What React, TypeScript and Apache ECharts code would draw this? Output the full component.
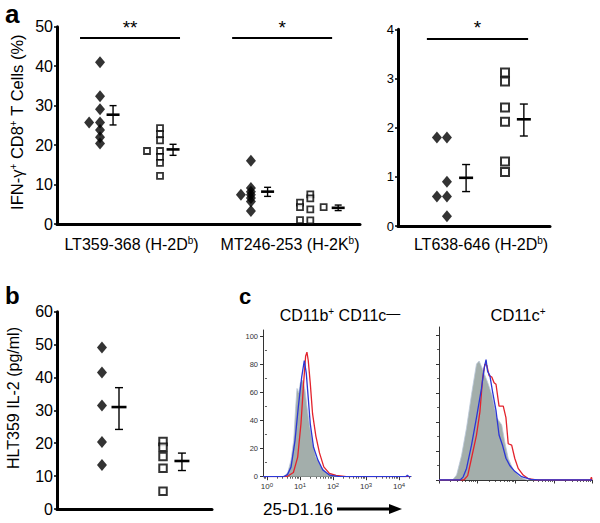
import React, { useEffect, useRef } from "react";
import * as echarts from "echarts";

const FONT = "'Liberation Sans', Arial, Helvetica, sans-serif";

// ---------- Panel a (left plot): % IFN-γ+ of CD8+ T cells ----------
const aLeftLabels = ["LT359-368 (H-2D{s|b})", "MT246-253 (H-2K{s|b})"];
const lt359FilledX = [1.42, 1.42, 1.42, 1.06, 1.42, 1.42, 1.42, 1.42];
const lt359FilledY = [41.0, 32.4, 29.1, 25.7, 25.7, 23.8, 22.0, 20.4];
const lt359OpenX = [3.4, 3.4, 3.4, 2.97, 3.4, 3.4, 3.4, 3.4];
const lt359OpenY = [24.3, 22.8, 21.2, 18.5, 18.5, 17.0, 15.5, 12.2];
const mt246FilledX = [6.4, 6.4, 6.4, 6.07, 6.4, 6.4, 6.4, 6.4];
const mt246FilledY = [16.0, 9.1, 8.2, 7.4, 7.4, 6.6, 5.7, 3.3];
const mt246OpenX = [8.02, 8.02, 8.02, 8.36, 8.36, 8.36, 8.36, 8.8];
const mt246OpenY = [5.4, 4.3, 1.0, 7.5, 6.5, 3.7, 0.9, 4.3];
// [x, mean, low, high]
const aLeftMeans = [
  [1.85, 27.7, 25.1, 30.0],
  [3.83, 18.9, 17.4, 20.2],
  [6.95, 8.2, 7.0, 9.3],
  [9.28, 4.1, 3.4, 4.8],
];
const aLeftSig = [
  { label: "**", from: [0.76, 47.1], to: [4.06, 47.1] },
  { label: "*", from: [5.78, 47.1], to: [9.08, 47.1] },
];

// ---------- Panel a (right plot) ----------
const aRightLabel = "LT638-646 (H-2D{s|b})";
const lt638FilledX = [1.28, 1.61, 1.61, 1.28, 1.61, 1.61];
const lt638FilledY = [1.8, 1.8, 0.9, 0.6, 0.6, 0.2];
const lt638OpenX = [3.52, 3.52, 3.52, 3.52, 3.52, 3.52];
const lt638OpenY = [3.12, 2.94, 2.41, 2.12, 1.31, 1.1];
const aRightMeans = [
  [2.24, 0.98, 0.7, 1.25],
  [4.14, 2.17, 1.83, 2.48],
];
const aRightSig = [{ label: "*", from: [0.95, 3.815], to: [4.28, 3.815] }];

// ---------- Panel b: HLT359 IL-2 ----------
const il2FilledX = [1.45, 1.45, 1.45, 1.45, 1.45];
const il2FilledY = [49.1, 41.5, 31.5, 20.4, 13.4];
const il2OpenX = [3.42, 3.42, 3.42, 3.42, 3.42];
const il2OpenY = [20.5, 18.8, 16.0, 12.4, 5.4];
const bMeans = [
  [2.0, 31.0, 24.2, 36.9],
  [4.03, 14.6, 11.7, 17.0],
];

// ---------- Panel c: histograms [log10 intensity, % of max] ----------
const c1Iso = [[-0.12, 0], [0.45, 0], [0.55, 0.8], [0.63, 3], [0.73, 12], [0.81, 26], [0.87, 50], [0.91, 63], [0.96, 60], [1.01, 67], [1.08, 69], [1.15, 62], [1.21, 50], [1.28, 38], [1.38, 24], [1.48, 14], [1.64, 7], [1.84, 2.4], [2.14, 0.5], [2.4, 0], [4.36, 0]];
const c1Blue = [[-0.12, 0], [0.5, 0], [0.62, 1.5], [0.73, 7], [0.85, 26], [0.95, 50], [1.05, 71], [1.13, 83], [1.19, 74], [1.23, 62], [1.31, 38], [1.41, 21], [1.54, 12], [1.69, 4.8], [1.89, 1.2], [2.15, 0.3], [2.5, 0], [4.2, 0], [4.25, 1], [4.3, 0], [4.36, 0]];
const c1Red = [[-0.12, 0], [0.6, 0], [0.8, 3], [0.93, 14], [1.03, 38], [1.11, 67], [1.17, 86], [1.21, 89], [1.25, 83], [1.31, 67], [1.38, 45], [1.48, 29], [1.59, 17], [1.72, 7], [1.89, 2.4], [2.09, 1], [2.4, 0], [4.36, 0]];
const c2Iso = [[0, 0], [0.35, 0], [0.46, 3.4], [0.59, 17], [0.72, 36], [0.85, 59], [0.98, 80], [1.05, 82], [1.16, 75], [1.29, 66], [1.38, 59], [1.51, 43], [1.64, 38], [1.72, 26], [1.81, 15], [1.94, 7], [2.11, 2.3], [2.3, 0], [4, 0]];
const c2Blue = [[0, 0], [0.55, 0], [0.63, 2], [0.72, 8], [0.85, 24], [0.98, 43], [1.11, 63], [1.18, 77], [1.23, 83], [1.27, 75], [1.33, 72], [1.4, 61], [1.49, 48], [1.57, 31], [1.66, 24], [1.75, 15], [1.85, 10], [1.98, 6], [2.16, 2.3], [2.4, 0.5], [2.6, 0], [4, 0]];
const c2Red = [[0, 0], [0.65, 0], [0.75, 3], [0.85, 15], [0.98, 31], [1.07, 47], [1.14, 70], [1.2, 80], [1.25, 79], [1.31, 72], [1.38, 71], [1.44, 67], [1.49, 66], [1.57, 51], [1.68, 51], [1.75, 43], [1.81, 25], [1.9, 24], [1.98, 15], [2.07, 8], [2.2, 3.4], [2.33, 1], [2.55, 0], [3.96, 0], [3.985, 2], [4, 0]];
const histMajor = [0, 1, 2, 3, 4];
const histYMajor = [0, 20, 40, 60, 80, 100];
const histYMinor = [10, 30, 50, 70, 90];

const minorLog: number[] = [];
for (let d = -1; d < 5; d++) {
  for (let k = 2; k <= 9; k++) minorLog.push(d + Math.log10(k));
}

const zip = (xs: number[], ys: number[]) => xs.map((x, i) => [x, ys[i]]);

const richSup = {
  s: { fontSize: 10, verticalAlign: "top", lineHeight: 12, fontFamily: FONT, color: "#000" },
  d: { fontSize: 14, verticalAlign: "top", lineHeight: 14, fontFamily: FONT, color: "#000" },
};

function errRender(halfMean: number, halfCap: number) {
  return (params: any, api: any) => {
    const x = api.value(0);
    const pm = api.coord([x, api.value(1)]);
    const pl = api.coord([x, api.value(2)]);
    const ph = api.coord([x, api.value(3)]);
    return {
      type: "group",
      children: [
        { type: "line", shape: { x1: pm[0] - halfMean, y1: pm[1], x2: pm[0] + halfMean, y2: pm[1] }, style: { stroke: "#000", lineWidth: 2.6 } },
        { type: "line", shape: { x1: pl[0], y1: pl[1], x2: ph[0], y2: ph[1] }, style: { stroke: "#000", lineWidth: 1.4 } },
        { type: "line", shape: { x1: pl[0] - halfCap, y1: pl[1], x2: pl[0] + halfCap, y2: pl[1] }, style: { stroke: "#000", lineWidth: 1.4 } },
        { type: "line", shape: { x1: ph[0] - halfCap, y1: ph[1], x2: ph[0] + halfCap, y2: ph[1] }, style: { stroke: "#000", lineWidth: 1.4 } },
      ],
    };
  };
}

function sigMarkLine(sigs: any[]) {
  return {
    silent: true,
    symbol: ["none", "none"],
    lineStyle: { color: "#000", width: 2, type: "solid" },
    label: { show: true, position: "middle", formatter: (p: any) => p.name, fontSize: 19, color: "#000", fontFamily: FONT, distance: 1 },
    emphasis: { disabled: true },
    data: sigs.map((s) => [{ name: s.label, coord: s.from }, { coord: s.to }]),
  };
}

const diamond = (size: number[]) => ({
  type: "scatter",
  symbol: "diamond",
  symbolSize: size,
  itemStyle: { color: "#000" },
  silent: true,
});
const openSquare = (size: number, bw: number) => ({
  type: "scatter",
  symbol: "rect",
  symbolSize: size,
  itemStyle: { color: "#fff", borderColor: "#000", borderWidth: bw },
  silent: true,
});

const thickLine = { show: true, onZero: false, lineStyle: { color: "#000", width: 3 } };
const hidden = { show: false };

function plotX(grid: number, max: number) {
  return { gridIndex: grid, type: "value", min: 0, max, axisLine: thickLine, axisTick: hidden, axisLabel: hidden, splitLine: hidden };
}
function plotY(grid: number, max: number, interval: number, fs: number) {
  return {
    gridIndex: grid, type: "value", min: 0, max, interval,
    axisLine: thickLine,
    axisTick: { show: true, length: 3, lineStyle: { color: "#000", width: 1.5 } },
    axisLabel: { fontSize: fs, color: "#000", fontFamily: FONT, margin: 4 },
    splitLine: hidden,
  };
}
const thinLine = { show: true, onZero: false, lineStyle: { color: "#333", width: 1 } };
function histX(grid: number, min: number, max: number, labels: boolean) {
  return {
    gridIndex: grid, type: "value", min, max, position: "bottom",
    axisLine: thinLine,
    axisTick: { show: true, length: 3.5, customValues: histMajor, lineStyle: { color: "#333", width: 1 } },
    axisLabel: labels
      ? {
          show: true, customValues: histMajor, fontSize: 8, color: "#333", fontFamily: FONT, margin: 5, lineHeight: 10,
          formatter: (v: number) => `10{s|${Math.round(v)}}`,
          rich: { s: { fontSize: 6, verticalAlign: "top", lineHeight: 7, color: "#333", fontFamily: FONT } },
        }
      : hidden,
    splitLine: hidden,
  };
}
function histXMinor(grid: number, min: number, max: number) {
  return {
    gridIndex: grid, type: "value", min, max, position: "bottom",
    axisLine: hidden,
    axisTick: { show: true, length: 2, customValues: minorLog.filter((v) => v > min && v < max), lineStyle: { color: "#333", width: 0.8 } },
    axisLabel: hidden, splitLine: hidden,
  };
}
function histY(grid: number, max: number, labels: boolean) {
  return {
    gridIndex: grid, type: "value", min: 0, max, position: "left",
    axisLine: thinLine,
    axisTick: { show: true, length: 3, customValues: histYMajor, lineStyle: { color: "#333", width: 1 } },
    axisLabel: labels ? { show: true, customValues: histYMajor, fontSize: 7.5, color: "#333", fontFamily: FONT, margin: 5 } : hidden,
    splitLine: hidden,
  };
}
function histYMinorAxis(grid: number, max: number) {
  return {
    gridIndex: grid, type: "value", min: 0, max, position: "left",
    axisLine: hidden,
    axisTick: { show: true, length: 2, customValues: histYMinor, lineStyle: { color: "#333", width: 0.8 } },
    axisLabel: hidden, splitLine: hidden,
  };
}

const RED = "#e3232c";
const BLUE = "#2b36d6";
const GRAY = "#a3aeab";

function histSeries(x: number, y: number, iso: number[][], red: number[][], blue: number[][]) {
  const base = { type: "line", xAxisIndex: x, yAxisIndex: y, symbol: "none", showSymbol: false, silent: true, smooth: false };
  return [
    { ...base, data: iso, lineStyle: { color: "#b9c7d8", width: 0.8 }, areaStyle: { color: GRAY, opacity: 1 }, z: 1 },
    { ...base, data: red, lineStyle: { color: RED, width: 1.3 }, z: 2 },
    { ...base, data: blue, lineStyle: { color: BLUE, width: 1.3 }, z: 3 },
  ];
}

const option: any = {
  animation: false,
  grid: [
    { left: 57, top: 26.7, width: 303, height: 197.3 },
    { left: 398, top: 29.3, width: 152, height: 196.7 },
    { left: 57, top: 311.7, width: 155, height: 197.3 },
    { left: 263, top: 330, width: 148, height: 146.7 },
    { left: 439, top: 327, width: 153, height: 153 },
  ],
  xAxis: [
    plotX(0, 10),
    plotX(1, 5),
    plotX(2, 5),
    histX(3, -0.12, 4.36, true),
    histXMinor(3, -0.12, 4.36),
    histX(4, 0, 4, false),
    histXMinor(4, 0, 4),
  ],
  yAxis: [
    plotY(0, 50, 10, 16),
    plotY(1, 4, 1, 13),
    plotY(2, 60, 10, 16),
    histY(3, 104.8, true),
    histYMinorAxis(3, 104.8),
    histY(4, 105.5, false),
    histYMinorAxis(4, 105.5),
  ],
  series: [
    { ...diamond([10, 12]), xAxisIndex: 0, yAxisIndex: 0, data: zip(lt359FilledX, lt359FilledY), markLine: sigMarkLine(aLeftSig) },
    { ...openSquare(6, 1.8), xAxisIndex: 0, yAxisIndex: 0, data: zip(lt359OpenX, lt359OpenY) },
    { ...diamond([10, 12]), xAxisIndex: 0, yAxisIndex: 0, data: zip(mt246FilledX, mt246FilledY) },
    { ...openSquare(6, 1.8), xAxisIndex: 0, yAxisIndex: 0, data: zip(mt246OpenX, mt246OpenY) },
    { type: "custom", xAxisIndex: 0, yAxisIndex: 0, renderItem: errRender(6.5, 3.5), data: aLeftMeans, encode: { x: 0, y: 1 }, silent: true },

    { ...diamond([10, 12]), xAxisIndex: 1, yAxisIndex: 1, data: zip(lt638FilledX, lt638FilledY), markLine: sigMarkLine(aRightSig) },
    { ...openSquare(8, 2), xAxisIndex: 1, yAxisIndex: 1, data: zip(lt638OpenX, lt638OpenY) },
    { type: "custom", xAxisIndex: 1, yAxisIndex: 1, renderItem: errRender(7, 4), data: aRightMeans, encode: { x: 0, y: 1 }, silent: true },

    { ...diamond([10, 12]), xAxisIndex: 2, yAxisIndex: 2, data: zip(il2FilledX, il2FilledY) },
    { ...openSquare(7.5, 2), xAxisIndex: 2, yAxisIndex: 2, data: zip(il2OpenX, il2OpenY) },
    { type: "custom", xAxisIndex: 2, yAxisIndex: 2, renderItem: errRender(7.5, 4), data: bMeans, encode: { x: 0, y: 1 }, silent: true },

    ...histSeries(3, 3, c1Iso, c1Red, c1Blue),
    ...histSeries(5, 5, c2Iso, c2Red, c2Blue),
  ],
  graphic: [
    { type: "text", x: 5, y: 14, style: { text: "a", font: `bold 26px ${FONT}`, fill: "#000", verticalAlign: "middle" } },
    { type: "text", x: 5, y: 295, style: { text: "b", font: `bold 24px ${FONT}`, fill: "#000", verticalAlign: "middle" } },
    { type: "text", x: 239, y: 296, style: { text: "c", font: `bold 22px ${FONT}`, fill: "#000", verticalAlign: "middle" } },
    {
      type: "text", x: 17, y: 122, rotation: Math.PI / 2,
      style: { text: "IFN-γ{s|+} CD8{s|+} T Cells (%)", fontSize: 16.5, fontFamily: FONT, fill: "#000", align: "center", verticalAlign: "middle", lineHeight: 18, rich: richSup },
    },
    {
      type: "text", x: 13, y: 398, rotation: Math.PI / 2,
      style: { text: "HLT359 IL-2 (pg/ml)", fontSize: 16, fontFamily: FONT, fill: "#000", align: "center", verticalAlign: "middle" },
    },
    { type: "text", x: 131.5, y: 244, style: { text: aLeftLabels[0], fontSize: 16, fontFamily: FONT, fill: "#000", align: "center", verticalAlign: "middle", lineHeight: 18, rich: richSup } },
    { type: "text", x: 290, y: 244, style: { text: aLeftLabels[1], fontSize: 16, fontFamily: FONT, fill: "#000", align: "center", verticalAlign: "middle", lineHeight: 18, rich: richSup } },
    { type: "text", x: 481, y: 244, style: { text: aRightLabel, fontSize: 16, fontFamily: FONT, fill: "#000", align: "center", verticalAlign: "middle", lineHeight: 18, rich: richSup } },
    { type: "text", x: 340, y: 315, style: { text: "CD11b{s|+} CD11c{d|—}", fontSize: 16, fontFamily: FONT, fill: "#000", align: "center", verticalAlign: "middle", lineHeight: 18, rich: richSup } },
    { type: "text", x: 518, y: 315, style: { text: "CD11c{s|+}", fontSize: 16.5, fontFamily: FONT, fill: "#000", align: "center", verticalAlign: "middle", lineHeight: 18, rich: richSup } },
    { type: "text", x: 263, y: 509, style: { text: "25-D1.16", fontSize: 17, fontFamily: FONT, fill: "#000", align: "left", verticalAlign: "middle" } },
    { type: "line", shape: { x1: 337, y1: 509, x2: 392, y2: 509 }, style: { stroke: "#000", lineWidth: 3 } },
    { type: "polygon", shape: { points: [[389, 504], [402, 509], [389, 514]] }, style: { fill: "#000" } },
  ],
};

export default function App() {
  const ref = useRef<HTMLDivElement>(null);
  useEffect(() => {
    document.body.style.margin = "0";
    const chart = echarts.init(ref.current as HTMLDivElement, null, { renderer: "svg" });
    chart.setOption(option);
    return () => chart.dispose();
  }, []);
  return <div ref={ref} style={{ width: 600, height: 523 }} />;
}
